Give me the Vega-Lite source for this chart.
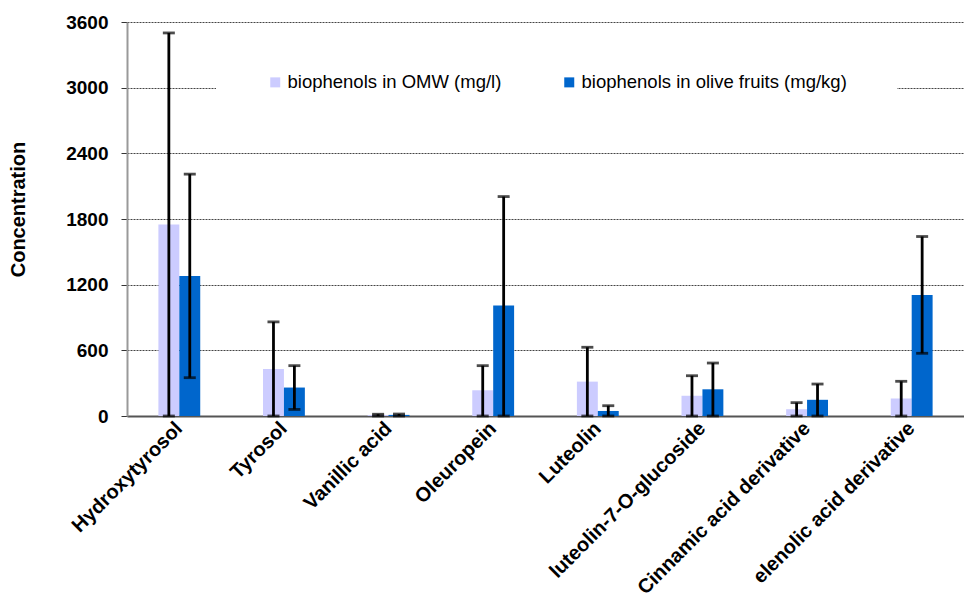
{
  "$schema": "https://vega.github.io/schema/vega-lite/v6.json",
  "width": 837,
  "height": 394,
  "autosize": "none",
  "padding": {"left": 127, "top": 22, "right": 0, "bottom": 189},
  "background": "white",
  "config": {
    "view": {"stroke": null},
    "font": "Liberation Sans"
  },
  "data": {
    "values": [
      {"compound": "Hydroxytyrosol", "series": "biophenols in OMW (mg/l)", "value": 1750, "lo": 0, "hi": 3500},
      {"compound": "Hydroxytyrosol", "series": "biophenols in olive fruits (mg/kg)", "value": 1280, "lo": 350, "hi": 2210},
      {"compound": "Tyrosol", "series": "biophenols in OMW (mg/l)", "value": 430, "lo": 0, "hi": 860},
      {"compound": "Tyrosol", "series": "biophenols in olive fruits (mg/kg)", "value": 260, "lo": 60, "hi": 460},
      {"compound": "Vanillic acid", "series": "biophenols in OMW (mg/l)", "value": 8, "lo": 0, "hi": 16},
      {"compound": "Vanillic acid", "series": "biophenols in olive fruits (mg/kg)", "value": 10, "lo": 0, "hi": 18},
      {"compound": "Oleuropein", "series": "biophenols in OMW (mg/l)", "value": 235, "lo": 0, "hi": 460},
      {"compound": "Oleuropein", "series": "biophenols in olive fruits (mg/kg)", "value": 1010, "lo": 0, "hi": 2005},
      {"compound": "Luteolin", "series": "biophenols in OMW (mg/l)", "value": 314, "lo": 0, "hi": 628},
      {"compound": "Luteolin", "series": "biophenols in olive fruits (mg/kg)", "value": 46, "lo": 0, "hi": 94},
      {"compound": "luteolin-7-O-glucoside", "series": "biophenols in OMW (mg/l)", "value": 185, "lo": 0, "hi": 368},
      {"compound": "luteolin-7-O-glucoside", "series": "biophenols in olive fruits (mg/kg)", "value": 244, "lo": 0, "hi": 484},
      {"compound": "Cinnamic acid derivative", "series": "biophenols in OMW (mg/l)", "value": 62, "lo": 0, "hi": 122},
      {"compound": "Cinnamic acid derivative", "series": "biophenols in olive fruits (mg/kg)", "value": 148, "lo": 0, "hi": 292},
      {"compound": "elenolic acid derivative", "series": "biophenols in OMW (mg/l)", "value": 160, "lo": 0, "hi": 317},
      {"compound": "elenolic acid derivative", "series": "biophenols in olive fruits (mg/kg)", "value": 1106, "lo": 573, "hi": 1640}
    ]
  },
  "encoding": {
    "x": {
      "field": "compound",
      "type": "nominal",
      "sort": null,
      "scale": {"paddingInner": 0.6, "paddingOuter": 0.3},
      "axis": {
        "title": null,
        "labelAngle": -45,
        "labelAlign": "right",
        "labelBaseline": "middle",
        "labelFont": "Liberation Sans",
        "labelFontWeight": "bold",
        "labelFontSize": 20,
        "labelColor": "black",
        "labelPadding": 9,
        "labelLimit": 400,
        "ticks": false,
        "domainColor": "#555",
        "domainWidth": 2,
        "grid": false
      }
    },
    "xOffset": {
      "field": "series",
      "type": "nominal",
      "sort": ["biophenols in OMW (mg/l)", "biophenols in olive fruits (mg/kg)"],
      "scale": {"paddingInner": 0, "paddingOuter": 0}
    }
  },
  "layer": [
    {
      "mark": {"type": "bar"},
      "encoding": {
        "y": {
          "field": "value",
          "type": "quantitative",
          "scale": {"domain": [0, 3600], "nice": false},
          "axis": {
            "title": "Concentration",
            "titleFont": "Liberation Sans",
            "titleFontSize": 20,
            "titleFontWeight": "bold",
            "titleColor": "black",
            "titleAngle": -90,
            "titleX": -109,
            "titleY": 187,
            "titleAlign": "center",
            "titleBaseline": "middle",
            "values": [0, 600, 1200, 1800, 2400, 3000, 3600],
            "format": "d",
            "labelFont": "Liberation Sans",
            "labelFontWeight": "bold",
            "labelFontSize": 19,
            "labelColor": "black",
            "labelPadding": 13,
            "tickSize": 6,
            "tickColor": "#333",
            "tickWidth": 1,
            "domainColor": "#999",
            "domainWidth": 2,
            "grid": true,
            "gridColor": "#444",
            "gridDash": [2, 1],
            "gridWidth": 1
          }
        },
        "color": {
          "field": "series",
          "type": "nominal",
          "scale": {
            "domain": ["biophenols in OMW (mg/l)", "biophenols in olive fruits (mg/kg)"],
            "range": ["#CCCCFF", "#0066CC"]
          },
          "legend": {
            "title": null,
            "orient": "none",
            "legendX": 89,
            "legendY": 1,
            "direction": "horizontal",
            "padding": 50,
            "fillColor": "white",
            "symbolType": "square",
            "symbolSize": 100,
            "symbolStrokeWidth": 0,
            "labelFont": "Liberation Sans",
            "labelFontSize": 18.5,
            "labelColor": "black",
            "labelOffset": 3,
            "columnPadding": 58,
            "labelLimit": 400
          }
        }
      }
    },
    {
      "mark": {"type": "rule", "color": "black", "strokeWidth": 2.8},
      "encoding": {
        "y": {"field": "lo", "type": "quantitative"},
        "y2": {"field": "hi"}
      }
    },
    {
      "mark": {"type": "tick", "color": "black", "thickness": 2.8, "size": 12, "orient": "horizontal"},
      "encoding": {
        "y": {"field": "hi", "type": "quantitative"}
      }
    },
    {
      "mark": {"type": "tick", "color": "black", "thickness": 2.8, "size": 12, "orient": "horizontal"},
      "encoding": {
        "y": {"field": "lo", "type": "quantitative"}
      }
    }
  ]
}
